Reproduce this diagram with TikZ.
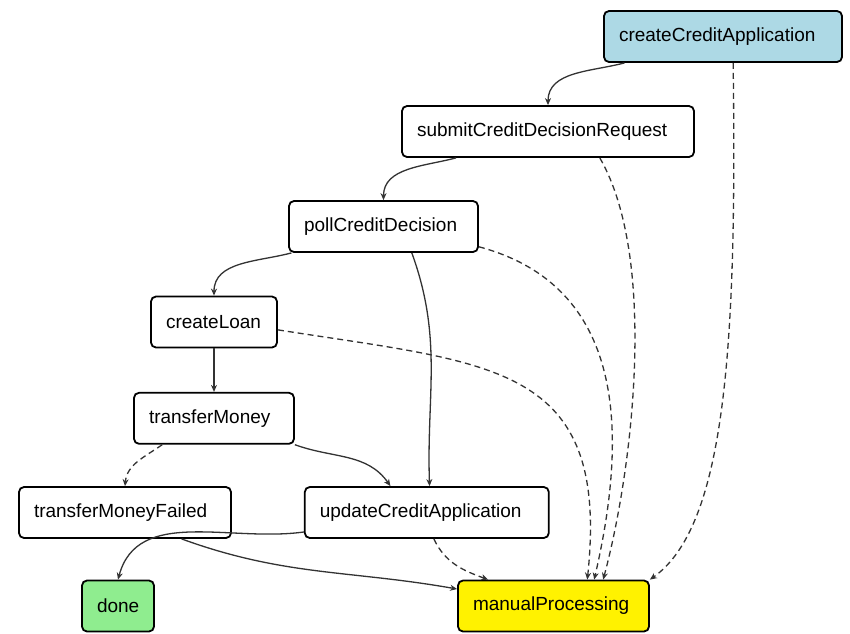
\documentclass[tikz,border=0pt]{standalone}
\usepackage{fontspec}
\setmainfont{Liberation Sans}
\usepackage{xcolor}
\usepackage{tikz}
\usetikzlibrary{positioning,shapes,arrows.meta}
\definecolor{lightblue}{rgb}{0.68,0.85,0.90}
\definecolor{lightgreen}{rgb}{0.56,0.93,0.56}
\definecolor{edgegray}{rgb}{0.2,0.2,0.2}
\tikzstyle{tk}=[%
      rectangle, rounded corners=5pt, draw=black, line width=1.8pt, fill=white,
      align=left, minimum height=51pt, inner xsep=15pt, font=\fontsize{19}{22}\selectfont
]
\tikzstyle{ini}=[tk, fill=lightblue]
\tikzstyle{fin}=[tk, fill=lightgreen]
\tikzstyle{mp}=[tk, fill=yellow]
\tikzstyle{alt}=[dash pattern=on 6pt off 4pt]

\begin{document}
\begin{tikzpicture}[x=1pt, y=1pt,
    ->,
    >={Stealth[length=7pt,width=6pt]},
    every edge/.append style={draw=edgegray, line width=1.3pt}
  ]
    \useasboundingbox (0,0) rectangle (850,-633);

    \node[ini, text width=208pt] (cca)  at (723,-36.5)    {createCreditApplication};
    \node[tk, text width=262pt]  (sub)  at (548,-131.5)   {submitCreditDecisionRequest};
    \node[tk, text width=159pt]  (poll) at (383.5,-226.5) {pollCreditDecision};
    \node[tk, text width=96pt]   (loan) at (214,-322)     {createLoan};
    \node[tk, text width=130pt]  (tm)   [below=43.5pt of loan] {transferMoney};
    \node[tk, text width=182pt]  (tmf)  at (125,-512.5)   {transferMoneyFailed};
    \node[tk, text width=214pt]  (upd)  [right=72pt of tmf] {updateCreditApplication};
    \node[fin, text width=42pt]  (done) at (118,-606)     {done};
    \node[mp, text width=161pt]  (man)  at (553.5,-606)   {manualProcessing};

    \path (cca.195) edge[out=195, in=90] (sub.north)
          (sub.196) edge[out=195, in=90] (poll.north)
          (poll.196) edge[out=195, in=90] (loan.north)
          (poll.317) edge[out=290, in=92] (upd.84)
          (loan) edge (tm)
          (tm.south east) edge[out=-20, in=125] (upd.144)
          (tmf.335) edge[out=-20, in=170] (man.170)
          (upd.189) edge[out=188, in=75] (done.north)
          (sub.333) edge[alt, out=300, in=75, looseness=0.7] (man.28)
          (poll.348) edge[alt, out=345, in=77, looseness=1.1] (man.33)
          (loan.353) edge[alt, out=351, in=84, looseness=1.4] (man.38)
          (tm.207) edge[alt, out=215, in=85] (tmf.north)
          (upd.285) edge[alt, out=295, in=160] (man.158)
    ;
    \draw[alt, edgegray, line width=1.3pt] (cca.291) .. controls +(4,-287) and +(75,53) .. (man.north east);
  \end{tikzpicture}
\end{document}
